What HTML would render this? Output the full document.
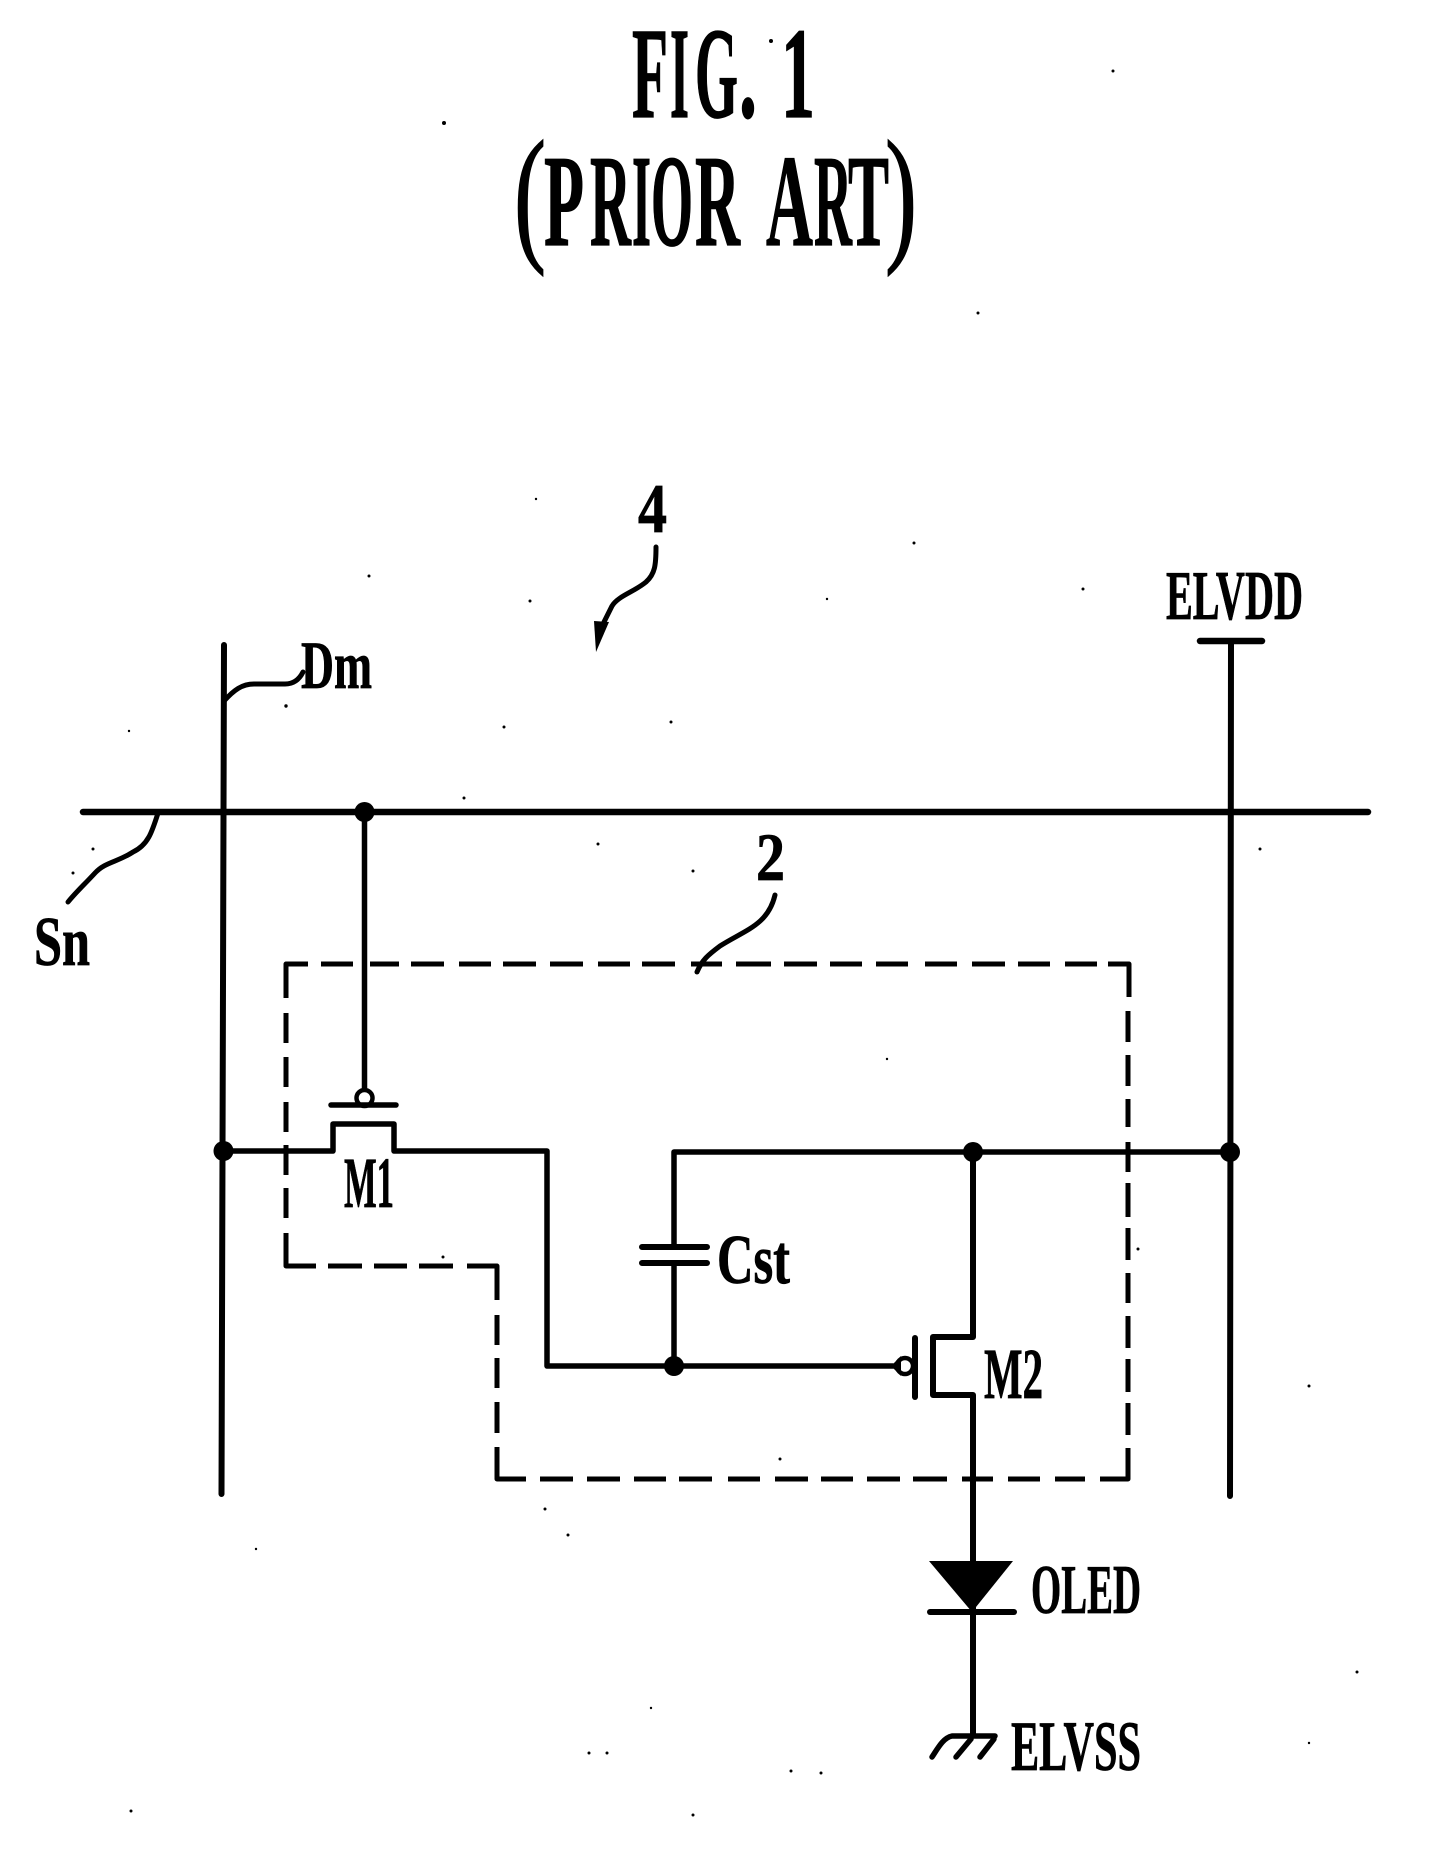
<!DOCTYPE html>
<html>
<head>
<meta charset="utf-8">
<style>
html,body{margin:0;padding:0;background:#fff;}
svg{display:block;}
text{font-family:"Liberation Serif",serif;font-weight:bold;fill:#000;stroke:#000;stroke-width:0.8px;}
.t text{stroke-width:1.2px;}
text.p{font-weight:normal;stroke-width:1.5px;}
</style>
</head>
<body>
<svg width="1441" height="1866" viewBox="0 0 1441 1866" xmlns="http://www.w3.org/2000/svg">
<rect width="1441" height="1866" fill="#fff"/>

<!-- Title -->
<g class="t" font-size="130">
  <text x="632" y="117" textLength="36" lengthAdjust="spacingAndGlyphs">F</text>
  <text x="670" y="117" textLength="19" lengthAdjust="spacingAndGlyphs">I</text>
  <text x="695" y="117" textLength="43" lengthAdjust="spacingAndGlyphs">G</text>
  <text x="739" y="117" textLength="18" lengthAdjust="spacingAndGlyphs">.</text>
  <text x="781" y="117" textLength="34" lengthAdjust="spacingAndGlyphs">1</text>
</g>
<g class="t" font-size="131">
  <text x="544" y="245" textLength="40" lengthAdjust="spacingAndGlyphs">P</text>
  <text x="590" y="245" textLength="41" lengthAdjust="spacingAndGlyphs">R</text>
  <text x="632" y="245" textLength="19" lengthAdjust="spacingAndGlyphs">I</text>
  <text x="651" y="245" textLength="42" lengthAdjust="spacingAndGlyphs">O</text>
  <text x="695" y="245" textLength="45" lengthAdjust="spacingAndGlyphs">R</text>
  <text x="766" y="245" textLength="47" lengthAdjust="spacingAndGlyphs">A</text>
  <text x="814" y="245" textLength="38" lengthAdjust="spacingAndGlyphs">R</text>
  <text x="848" y="245" textLength="41" lengthAdjust="spacingAndGlyphs">T</text>
</g>
<text class="p" x="514" y="244" font-size="150" textLength="32" lengthAdjust="spacingAndGlyphs">(</text>
<text class="p" x="885" y="244" font-size="150" textLength="32" lengthAdjust="spacingAndGlyphs">)</text>

<!-- Labels -->
<text x="638" y="532" font-size="70" textLength="29" lengthAdjust="spacingAndGlyphs">4</text>
<text x="756" y="880" font-size="68" textLength="29" lengthAdjust="spacingAndGlyphs">2</text>
<text x="301" y="688" font-size="68" textLength="71" lengthAdjust="spacingAndGlyphs">Dm</text>
<text x="34" y="965" font-size="70" textLength="56" lengthAdjust="spacingAndGlyphs">Sn</text>
<text x="1166" y="619" font-size="70" textLength="137" lengthAdjust="spacingAndGlyphs">ELVDD</text>
<text x="344" y="1207" font-size="72" textLength="50" lengthAdjust="spacingAndGlyphs">M1</text>
<text x="717" y="1283" font-size="70" textLength="73" lengthAdjust="spacingAndGlyphs">Cst</text>
<text x="984" y="1398" font-size="72" textLength="59" lengthAdjust="spacingAndGlyphs">M2</text>
<text x="1031" y="1613" font-size="70" textLength="110" lengthAdjust="spacingAndGlyphs">OLED</text>
<text x="1011" y="1770" font-size="71" textLength="130" lengthAdjust="spacingAndGlyphs">ELVSS</text>

<!-- Main lines -->
<g fill="none" stroke="#000" stroke-linecap="round" stroke-linejoin="round">
  <path d="M83,812 H1368" stroke-width="6.5"/>
  <path d="M224,645 L221.5,1494" stroke-width="6"/>
  <path d="M1231,641 L1230,1496" stroke-width="6"/>
  <path d="M1200,641 H1262" stroke-width="6.5"/>

  <!-- M1 -->
  <path d="M364.5,812 V1090" stroke-width="5.5"/>
  <circle cx="364.5" cy="1098" r="8" stroke-width="4.5" fill="#fff"/>
  <path d="M331,1105 H396" stroke-width="5.5"/>
  <path d="M223,1151 H333 V1124 H394 V1151 H547 V1366 H893" stroke-width="5.5"/>

  <!-- Cst and upper rail -->
  <path d="M674,1247 V1152 H1230" stroke-width="5.5"/>
  <path d="M642,1247 H707 M642,1263 H707" stroke-width="6"/>
  <path d="M674,1263 V1366" stroke-width="5.5"/>

  <!-- M2 -->
  <circle cx="905" cy="1366" r="8" stroke-width="4.5" fill="#fff"/>
  <path d="M915,1338 V1397" stroke-width="6"/>
  <path d="M973,1152 V1337 H933 V1395 H973 V1735" stroke-width="6"/>

  <!-- OLED -->
  <path d="M930,1612 H1014" stroke-width="6"/>

  <!-- Ground -->
  <path d="M932,1757 C938,1748 943,1738 952,1736 H995" stroke-width="5.5"/>
  <path d="M971,1739 L956,1757 M994,1739 L980,1757" stroke-width="5.5"/>

  <!-- Leaders -->
  <path d="M224,701 C234,690 242,684 254,684 H285 C295,684 300,678 303,672" stroke-width="5"/>
  <path d="M158,813 C152,832 148,845 133,852 C118,862 105,862 95,873 C84,885 76,892 68,902" stroke-width="5"/>
  <path d="M656,547 C656,565 655,574 646,582 C634,592 618,596 612,606 L604,622" stroke-width="5"/>
  <path d="M775,895 C768,925 745,930 720,946 C708,955 702,960 697,972" stroke-width="5"/>

  <!-- Dashed outline -->
  <path stroke-width="5" stroke-linecap="butt" d="
    M286,998 V964 H308
    M321,964 H353 M370,964 H399 M411,964 H444 M459,964 H491 M503,964 H536 M550,964 H583 M598,964 H630 M642,964 H675 M691,964 H722
    M736,964 H771 M784,964 H817 M830,964 H862 M876,964 H908 M925,964 H957 M972,964 H1005 M1018,964 H1050 M1065,964 H1097
    M1108,964 H1129 V997
    M1128,1011 V1042 M1128,1055 V1086 M1128,1099 V1127 M1128,1142 V1172 M1128,1183 V1217 M1128,1228 V1260 M1128,1273 V1303 M1128,1316 V1348 M1128,1359 V1392 M1128,1403 V1435
    M1128,1448 V1479 H1100
    M1085,1479 H1055 M1040,1479 H1008 M993,1479 H962 M947,1479 H913 M900,1479 H867 M853,1479 H821 M808,1479 H775 M760,1479 H728 M712,1479 H679 M666,1479 H634 M620,1479 H587 M573,1479 H540
    M526,1479 H497 V1447
    M497,1433 V1402 M497,1388 V1358 M497,1345 V1315
    M497,1300 V1266 H467
    M453,1266 H419 M407,1266 H374 M362,1266 H328
    M316,1266 H286 V1233
    M286,1218 V1188 M286,1175 V1145 M286,1132 V1102 M286,1087 V1057 M286,1043 V1013"/>
</g>

<!-- Filled shapes -->
<g fill="#000">
  <circle cx="364.5" cy="812" r="10"/>
  <circle cx="223.5" cy="1151" r="10"/>
  <circle cx="674" cy="1366" r="10"/>
  <circle cx="973" cy="1152" r="10"/>
  <circle cx="1230" cy="1152" r="10"/>
  <polygon points="929,1561 1013,1561 972,1612"/>
  <polygon points="594,621 609,622 596,652"/>
  <polygon points="891,1366 901,1356 901,1376"/>
</g>

<!-- Specks -->
<g fill="#000">
  <circle cx="771" cy="41" r="2"/><circle cx="444" cy="123" r="2"/>
  <circle cx="978" cy="313" r="1.5"/><circle cx="1113" cy="71" r="1.5"/>
  <circle cx="369" cy="576" r="1.5"/><circle cx="536" cy="499" r="1.2"/>
  <circle cx="530" cy="601" r="1.5"/><circle cx="286" cy="706" r="1.7"/>
  <circle cx="129" cy="731" r="1.2"/><circle cx="504" cy="727" r="1.5"/>
  <circle cx="671" cy="722" r="1.5"/><circle cx="464" cy="798" r="1.5"/>
  <circle cx="598" cy="844" r="1.5"/><circle cx="693" cy="871" r="1.5"/>
  <circle cx="93" cy="849" r="1.5"/><circle cx="73" cy="873" r="1.5"/>
  <circle cx="914" cy="543" r="1.5"/><circle cx="827" cy="599" r="1.2"/>
  <circle cx="1083" cy="589" r="1.5"/><circle cx="1260" cy="849" r="1.5"/>
  <circle cx="443" cy="1257" r="1.5"/><circle cx="780" cy="1459" r="1.5"/>
  <circle cx="1138" cy="1249" r="1.5"/><circle cx="887" cy="1059" r="1.2"/>
  <circle cx="1309" cy="1386" r="1.5"/><circle cx="1357" cy="1672" r="1.5"/>
  <circle cx="256" cy="1549" r="1.2"/><circle cx="131" cy="1811" r="1.5"/>
  <circle cx="693" cy="1815" r="1.5"/><circle cx="568" cy="1535" r="1.5"/>
  <circle cx="545" cy="1509" r="1.5"/><circle cx="791" cy="1771" r="1.5"/>
  <circle cx="821" cy="1773" r="1.5"/><circle cx="589" cy="1753" r="1.5"/>
  <circle cx="607" cy="1753" r="1.5"/><circle cx="651" cy="1708" r="1.2"/>
  <circle cx="1309" cy="1743" r="1.2"/>
</g>
</svg>
</body>
</html>
